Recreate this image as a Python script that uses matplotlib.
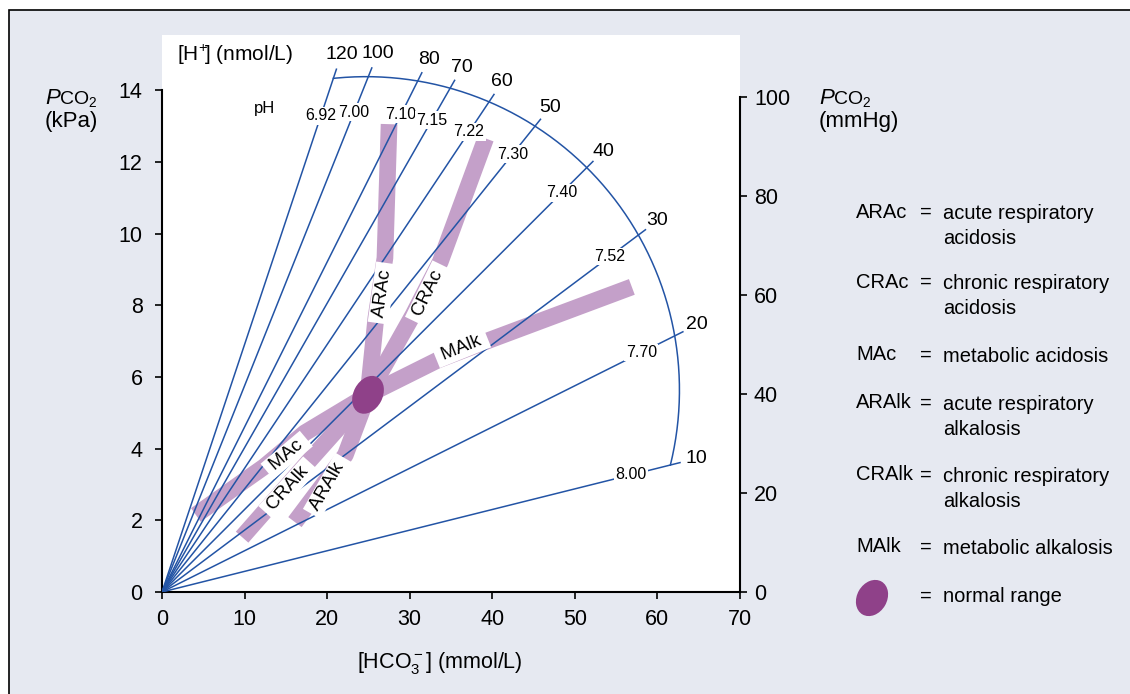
import numpy as np
import matplotlib.pyplot as plt
import matplotlib.transforms as mtransforms
from matplotlib.patches import Ellipse, Rectangle

plt.rcParams['font.family'] = ['Liberation Sans Narrow', 'Liberation Sans', 'DejaVu Sans']
plt.rcParams['mathtext.fontset'] = 'custom'
plt.rcParams['mathtext.rm'] = 'Liberation Sans'
plt.rcParams['mathtext.it'] = 'Liberation Sans:italic'
plt.rcParams['mathtext.bf'] = 'Liberation Sans:bold'

#################################################################
# data

# [H+] isopleths (nmol/L) and matching pH
h_ion = [120, 100, 80, 70, 60, 50, 40, 30, 20, 10]
ph_vals = ['6.92', '7.00', '7.10', '7.15', '7.22', '7.30', '7.40', '7.52', '7.70', '8.00']

# normal range (HCO3 mmol/L, PCO2 kPa)
normal_hco3 = 24.95
normal_pco2 = 5.5

# bands, [HCO3-] (mmol/L) vs PCO2 (kPa)
arac_x = [24.95, 25.9, 27.0, 27.5]
arac_y = [5.5, 7.64, 9.32, 13.05]
aralk_x = [24.95, 22.2, 16.1]
aralk_y = [5.5, 3.82, 1.95]
crac_x = [24.95, 30.4, 33.7, 39.2]
crac_y = [5.5, 7.73, 9.21, 12.65]
cralk_x = [24.95, 17.9, 9.7]
cralk_y = [5.5, 3.68, 1.53]
met_x = [4.1, 12.35, 17.3, 24.95, 33.4, 39.7, 56.9]
met_y = [2.15, 3.49, 4.44, 5.5, 6.47, 7.03, 8.51]

band_labels = ['ARAc', 'CRAc', 'MAlk', 'MAc', 'CRAlk', 'ARAlk']
label_x = [26.65, 32.2, 36.3, 15.1, 15.3, 20.1]
label_y = [8.34, 8.34, 6.8, 3.82, 2.9, 2.96]
label_rot = [82, 64, 22, 40, 48, 60]

legend_abbr = ['ARAc', 'CRAc', 'MAc', 'ARAlk', 'CRAlk', 'MAlk']
legend_desc = ['acute respiratory\nacidosis', 'chronic respiratory\nacidosis',
               'metabolic acidosis', 'acute respiratory\nalkalosis',
               'chronic respiratory\nalkalosis', 'metabolic alkalosis']

#################################################################

blue = '#2354a5'
band = '#c4a0c9'
dark = '#8f4189'
bg = '#e6e9f1'
W, H = 1130, 694


def fx(x):
    return x / W


def fy(y):
    return 1 - y / H


fig = plt.figure(figsize=(W / 100, H / 100), dpi=100, facecolor='white')
fig.patches.append(Rectangle((fx(9), -0.1), 1.2, fy(10) + 0.1, transform=fig.transFigure,
                             fc=bg, ec='black', lw=1.2, zorder=-10))

ax = fig.add_axes([fx(162), fy(592), fx(740) - fx(162), fy(35) - fy(592)])
ax.set_facecolor('white')
ax.set_xlim(0, 70)
ax.set_ylim(0, 557 / 35.85)
ax2 = ax.twinx()
ax2.set_ylim(0, 557 / 4.95)

for a in (ax, ax2):
    a.spines['top'].set_visible(False)
    for s in a.spines.values():
        s.set_linewidth(1.5)
    a.tick_params(direction='out', length=5, width=1.2, labelsize=15.5)
ax2.spines['left'].set_visible(False)
ax.spines['right'].set_visible(False)
ax2.spines['bottom'].set_visible(False)
ax.spines['left'].set_bounds(0, 14)
ax2.spines['right'].set_bounds(0, 100)
ax.set_xticks(range(0, 71, 10))
ax.set_yticks(range(0, 15, 2))
ax2.set_yticks(range(0, 101, 20))
ax.tick_params(axis='y', pad=9)
ax.tick_params(axis='x', pad=7)
ax2.tick_params(axis='y', pad=5)

# isopleth geometry in pixels
T = ax2.transData
Ti = T.inverted()
o = T.transform((0, 0))
c = ax.transData.transform((24.7, 5.63))
R = 313.5


def hit(u, r):
    b = np.dot(u, o - c)
    q = np.dot(o - c, o - c) - r * r
    return o + (-b + np.sqrt(b * b - q)) * u


angles = []
for h, p in zip(h_ion, ph_vals):
    d = T.transform((10, h * 10 / 24)) - o
    u = d / np.hypot(*d)
    end = Ti.transform(hit(u, R + 9.5))
    ax2.plot([0, end[0]], [0, end[1]], color=blue, lw=1.1, zorder=3, solid_capstyle='butt')
    cr = hit(u, R) - c
    angles.append(np.arctan2(cr[1], cr[0]))
    lab = Ti.transform(hit(u, R + 23.5))
    ax2.text(lab[0], lab[1], str(h), fontsize=14, ha='center', va='center', zorder=5)
    pl = Ti.transform(hit(u, R - 35.5))
    ax2.text(pl[0], pl[1], p, fontsize=11.5, ha='center', va='center', zorder=5,
             bbox=dict(fc='white', ec='none', pad=1.0))

t = np.linspace(angles[-1], angles[0], 200)
arc = Ti.transform(np.column_stack([c[0] + R * np.cos(t), c[1] + R * np.sin(t)]))
ax2.plot(arc[:, 0], arc[:, 1], color=blue, lw=1.1, zorder=3)

# bands
for bx, by in [(arac_x, arac_y), (aralk_x, aralk_y), (crac_x, crac_y),
               (cralk_x, cralk_y), (met_x, met_y)]:
    ax2.plot(bx, by, color=band, lw=12, solid_capstyle='butt', solid_joinstyle='round',
             zorder=2, transform=ax.transData)

for s, x, y, r in zip(band_labels, label_x, label_y, label_rot):
    ax2.text(x, y, ' ' + s + ' ', rotation=r, rotation_mode='anchor', ha='center', va='center',
             fontsize=13.5, zorder=6, transform=ax.transData,
             bbox=dict(fc='white', ec='none', pad=1.2))

# normal range
ax2.add_patch(Ellipse((0, 0), 0.29, 0.40, angle=-28, fc=dark, ec='none', zorder=4,
                      transform=fig.dpi_scale_trans +
                      mtransforms.ScaledTranslation(normal_hco3, normal_pco2, ax.transData)))

ax2.set_xlim(0, 70)
ax2.set_ylim(0, 557 / 4.95)

# axis titles: italic P with smaller CO2
for x0 in (45, 819):
    fig.text(fx(x0), fy(104), 'P', fontsize=16, style='italic', ha='left', va='baseline')
    fig.text(fx(x0 + 14), fy(104), r'CO$_2$', fontsize=14, ha='left', va='baseline')
fig.text(fx(45), fy(122), '(kPa)', fontsize=16, ha='left', va='center')
fig.text(fx(819), fy(122), '(mmHg)', fontsize=16, ha='left', va='center')
fig.text(fx(177), fy(55), r'[H$^{+}\!$] (nmol/L)', fontsize=15, ha='left', va='center')
fig.text(fx(265), fy(108), 'pH', fontsize=12, ha='center', va='center')
fig.text(fx(440), fy(663), r'[HCO$_3^-$] (mmol/L)', fontsize=15.5, ha='center', va='center')

# legend
leg_y = [212, 282, 355, 403, 475, 547]
for s, d, y in zip(legend_abbr, legend_desc, leg_y):
    fig.text(fx(856), fy(y), s, fontsize=14.5, ha='left', va='center')
    fig.text(fx(926), fy(y), '=', fontsize=14.5, ha='center', va='center')
    fig.text(fx(943), fy(y) + 0.0116, d, fontsize=14.5, ha='left', va='top', linespacing=1.4)
fig.text(fx(926), fy(596), '=', fontsize=14.5, ha='center', va='center')
fig.text(fx(943), fy(596), 'normal range', fontsize=14.5, ha='left', va='center')
fig.patches.append(Ellipse((0, 0), 0.30, 0.38, angle=-30, fc=dark, ec='none',
                           transform=fig.dpi_scale_trans +
                           mtransforms.ScaledTranslation(fx(872), fy(598), fig.transFigure)))

plt.savefig('out.png', dpi=100)
